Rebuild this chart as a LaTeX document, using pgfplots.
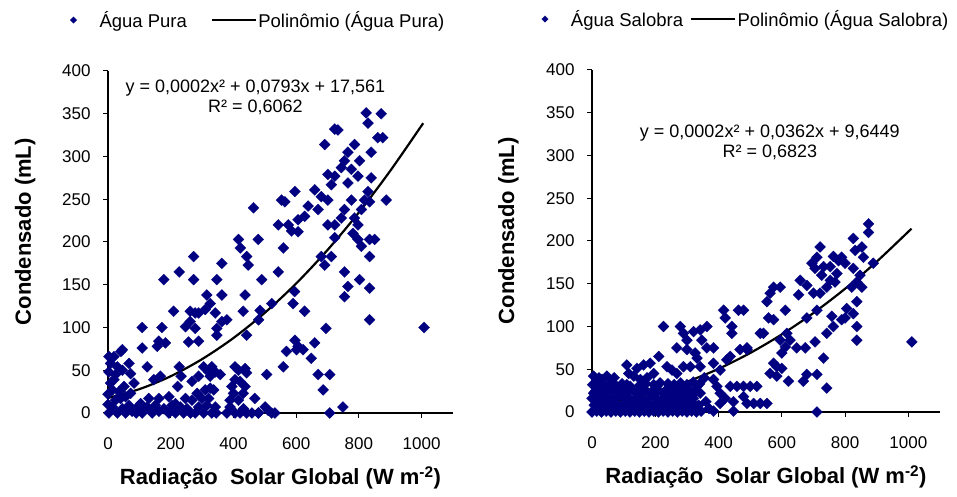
\documentclass[border=0pt]{standalone}
\usepackage{fontspec}
\setmainfont{Liberation Sans}
\usepackage{pgfplots}
\usepackage{pgfplotstable}
\pgfplotsset{compat=1.18}
\definecolor{navymark}{RGB}{0,0,128}

% Condensed water (mL) against global solar radiation (W m-2), pure water
\pgfplotstableread[row sep=\\]{
x y\\
823 351\\ 871 350\\ 829 339\\ 723 332\\ 733 331\\ 691 314\\ 786 314\\ 860 322\\ 876 322\\
765 305\\ 839 305\\ 802 295\\ 754 295\\ 744 287\\ 776 285\\ 701 279\\ 723 277\\ 797 277\\
839 275\\ 659 261\\ 680 253\\ 765 269\\ 712 267\\ 701 249\\ 596 259\\ 553 249\\ 564 247\\
464 240\\ 887 249\\ 829 259\\ 818 249\\ 834 247\\ 638 242\\ 627 230\\ 606 226\\ 670 238\\
754 238\\ 744 228\\ 776 249\\ 808 238\\ 786 228\\ 797 220\\ 543 220\\ 575 220\\ 585 213\\
606 212\\ 701 220\\ 723 220\\ 723 205\\ 712 183\\ 781 210\\ 797 203\\ 808 195\\ 834 203\\
850 203\\ 834 183\\ 416 203\\ 422 193\\ 479 203\\ 442 183\\ 447 173\\ 559 193\\ 680 183\\
691 173\\ 754 165\\ 765 148\\ 754 136\\ 802 156\\ 834 146\\ 834 109\\ 695 99\\ 1008 100\\
543 165\\ 490 156\\ 437 138\\ 363 175\\ 347 156\\ 273 183\\ 227 165\\ 178 156\\ 273 156\\
315 138\\ 326 128\\ 363 138\\ 522 128\\ 485 120\\ 480 109\\ 431 119\\ 595 142\\ 590 128\\
627 119\\ 209 119\\ 262 119\\ 278 117\\ 289 117\\ 310 121\\ 109 100\\ 172 100\\ 247 101\\
262 107\\ 278 99\\ 342 117\\ 347 99\\ 363 107\\ 379 109\\ 347 91\\ 442 91\\ 257 83\\
289 84\\ 157 78\\ 162 84\\ 183 82\\ 109 76\\ 19 66\\ 46 74\\ 41 72\\ 8 58\\ 30 54\\ 46 50\\
67 58\\ 72 46\\ 24 45\\ 8 35\\ 19 39\\ 125 54\\ 146 39\\ 167 43\\ 227 54\\ 233 43\\ 222 31\\
268 37\\ 289 43\\ 305 54\\ 321 48\\ 331 54\\ 342 48\\ 326 43\\ 358 45\\ 326 29\\ 337 27\\
321 17\\ 405 54\\ 416 50\\ 437 52\\ 442 47\\ 405 39\\ 395 31\\ 400 23\\ 389 15\\ 421 37\\
437 31\\ 431 23\\ 416 15\\ 506 45\\ 468 17\\ 559 54\\ 569 72\\ 596 85\\ 601 74\\ 606 78\\
622 74\\ 648 64\\ 659 82\\ 670 45\\ 707 45\\ 686 27\\ 749 7\\ 707 0\\ 522 0\\ 501 7\\
480 0\\ 459 0\\ 3 66\\ 3 48\\ 0 22\\ 0 10\\
3 0\\ 14 7\\ 30 0\\ 46 5\\ 56 0\\ 67 9\\ 77 2\\ 24 15\\ 40 17\\ 56 19\\ 72 23\\ 14 27\\
51 31\\ 83 35\\ 35 25\\ 90 0\\ 97 8\\
109 0\\ 125 7\\ 141 0\\ 151 9\\ 162 2\\ 178 5\\ 194 0\\ 204 9\\ 215 0\\ 231 7\\ 241 0\\
252 5\\ 104 11\\ 130 17\\ 162 17\\ 194 19\\ 215 11\\ 247 17\\ 263 0\\
278 0\\ 289 7\\ 305 0\\ 315 9\\ 331 0\\ 342 7\\ 268 15\\ 284 23\\ 299 17\\ 310 27\\ 345 0\\
379 0\\ 389 7\\ 405 0\\ 421 0\\ 432 5\\ 442 0\\ 479 0\\ 511 3\\ 532 0\\
}\purewater

% Brackish water
\pgfplotstableread[row sep=\\]{
x y\\
874 220\\ 874 210\\ 826 203\\ 853 193\\ 832 189\\ 858 181\\ 889 174\\ 721 193\\ 711 181\\
695 174\\ 705 168\\ 732 170\\ 763 182\\ 789 181\\ 800 174\\ 779 177\\ 753 170\\ 774 162\\
826 168\\ 847 160\\ 837 152\\ 853 146\\ 821 146\\ 726 160\\ 753 154\\ 742 146\\ 768 152\\
658 154\\ 679 148\\ 653 137\\ 700 139\\ 721 139\\ 837 129\\ 826 115\\ 805 121\\ 758 112\\
763 100\\ 789 108\\ 800 110\\ 837 100\\ 837 84\\ 1011 82\\ 553 129\\ 563 139\\ 574 146\\
595 146\\ 558 110\\ 574 108\\ 611 119\\ 679 110\\ 711 119\\ 742 92\\ 705 82\\ 732 63\\
711 44\\ 679 44\\ 668 36\\ 742 28\\ 616 92\\ 595 84\\ 611 76\\ 600 69\\ 626 84\\ 574 57\\
584 53\\ 600 51\\ 621 36\\ 647 75\\ 674 75\\ 563 45\\ 584 42\\ 532 92\\ 542 92\\ 490 75\\
711 0\\
416 119\\ 421 110\\ 442 100\\ 442 92\\ 463 119\\ 479 119\\ 226 100\\ 279 100\\ 289 92\\
321 94\\ 300 84\\ 342 96\\ 363 100\\ 347 84\\ 363 75\\ 384 75\\ 268 75\\ 300 73\\ 326 69\\
332 63\\ 211 65\\ 184 57\\ 163 55\\ 142 51\\ 110 55\\ 116 45\\ 132 42\\ 153 38\\ 174 40\\
195 45\\ 237 53\\ 253 49\\ 268 45\\ 289 53\\ 311 53\\ 342 53\\ 384 57\\ 405 49\\ 426 61\\
437 65\\ 468 73\\ 490 73\\ 384 38\\ 395 30\\ 405 22\\ 421 16\\ 447 12\\ 405 10\\ 384 1\\
447 1\\ 437 30\\ 458 30\\ 479 30\\ 500 30\\ 521 30\\ 490 10\\ 511 10\\ 532 10\\ 553 10\\
479 18\\
5 42\\ 11 34\\ 21 26\\ 32 38\\ 47 42\\ 58 34\\ 5 22\\ 11 14\\ 32 14\\ 42 18\\ 79 18\\
89 22\\ 68 14\\ 121 30\\ 142 22\\ 163 26\\ 184 22\\ 205 30\\ 226 22\\ 247 30\\ 268 22\\
289 30\\ 311 22\\ 332 30\\ 342 22\\
0 0\\ 15 1\\ 30 0\\ 45 1\\ 60 0\\ 75 1\\ 90 0\\ 105 1\\ 120 0\\ 135 1\\ 150 0\\ 165 1\\
180 0\\ 195 1\\ 210 0\\ 225 1\\ 240 0\\ 255 1\\ 270 0\\ 285 1\\ 300 0\\ 315 1\\ 330 0\\ 345 1\\
7 8\\ 22 9\\ 37 8\\ 52 9\\ 67 8\\ 82 9\\ 97 8\\ 112 9\\ 127 8\\ 142 9\\ 157 8\\ 172 9\\
187 8\\ 202 9\\ 217 8\\ 232 9\\ 247 8\\ 262 9\\ 277 8\\ 292 9\\ 307 8\\ 322 9\\ 337 8\\
0 16\\ 20 17\\ 60 16\\ 100 17\\ 120 15\\ 140 16\\ 160 15\\ 180 16\\ 200 17\\ 220 15\\
240 16\\ 260 15\\ 280 16\\ 300 15\\ 320 16\\ 360 12\\ 370 4\\
10 24\\ 25 25\\ 40 24\\ 55 26\\ 70 25\\ 85 24\\ 100 25\\ 115 24\\ 130 25\\ 150 24\\
170 25\\ 190 24\\ 210 25\\ 230 24\\ 250 23\\ 270 25\\ 290 24\\ 310 25\\ 330 24\\
2 32\\ 18 33\\ 38 31\\ 62 33\\ 75 31\\ 95 33\\ 110 32\\ 150 31\\ 170 33\\ 195 32\\
215 34\\ 240 33\\ 260 32\\ 280 34\\ 300 32\\ 320 35\\ 340 33\\ 355 40\\ 22 40\\ 70 40\\
}\brackishwater

% Second-order polynomial trend lines
\pgfplotstableread[row sep=\\]{
x y\\
0 17.6\\ 100 27.9\\ 200 43.0\\ 300 63.0\\ 400 87.7\\ 500 117.2\\ 600 151.5\\
700 190.7\\ 800 234.6\\ 900 283.3\\ 1005 339.0\\
}\puretrend
\pgfplotstableread[row sep=\\]{
x y\\
0 9.6\\ 100 14.9\\ 200 23.5\\ 300 35.4\\ 400 50.5\\ 500 69.0\\ 600 90.8\\
700 115.8\\ 800 144.2\\ 900 175.9\\ 1010 214.5\\
}\brackishtrend

\pgfplotsset{
  condplot/.style={
    scale only axis,
    height=342pt,
    xmin=0, xmax=1100, ymin=0, ymax=400,
    axis x line*=bottom, axis y line*=left,
    axis line style={-, line width=1.2pt},
    xtick={0,200,...,1000}, ytick={0,50,...,400},
    xticklabels={0,200,400,600,800,1000},
    tick align=outside, major tick length=5pt,
    tick style={line width=1pt, black},
    tick label style={font=\fontsize{17}{17}\selectfont},
    xticklabel style={yshift=-16pt},
    yticklabel style={xshift=-9pt},
    /pgf/number format/assume math mode=true,
    label style={font=\fontsize{22}{22}\selectfont\bfseries},
    xlabel={Radiação\ \ Solar Global (W m\textsuperscript{-2})},
    ylabel={Condensado (mL)},
    xlabel style={at={(axis description cs:0.5,-0.19)}, anchor=center},
    ylabel style={at={(axis description cs:-0.24,0.53)}, anchor=center},
    clip=false,
    legend columns=2,
    legend style={draw=none, fill=none, font=\fontsize{18.5}{18.5}\selectfont,
      anchor=west, inner sep=0pt},
  },
  dots/.style={only marks, mark=square*, mark size=3.9pt,
    mark options={rotate=45, fill=navymark, draw=navymark, line width=0.2pt},
    legend image code/.code={
      \draw[##1, mark size=2.3pt] plot coordinates {(0pt,0pt)};
      \path[draw=none, fill=none] (-3pt,0pt) -- (24pt,0pt);}},
  trend/.style={black, line width=2.2pt, smooth, no marks,
    legend image code/.code={
      \draw[black, line width=1.4pt] (0pt,0pt) -- (44pt,0pt);}},
}

\begin{document}
\begin{tikzpicture}
\path[use as bounding box] (0pt,0pt) rectangle (957pt,497pt);

\begin{axis}[condplot, at={(108pt,84pt)}, anchor=south west, width=345pt,
  legend style={at={(axis description cs:-0.11,1.149)},
    /tikz/every even column/.append style={column sep=22pt}}]
\addplot[dots] table {\purewater};
\addlegendentry{Água Pura}
\addplot[trend] table {\puretrend};
\addlegendentry{Polinômio (Água Pura)}
\node[font=\fontsize{18}{20}\selectfont, align=center] at (axis cs:470,369)
  {y = 0,0002x² + 0,0793x + 17,561\\R² = 0,6062};
\end{axis}

\begin{axis}[condplot, at={(592pt,85pt)}, anchor=south west, width=348pt,
  legend style={at={(axis description cs:-0.145,1.149)},
    /tikz/every even column/.append style={column sep=5pt}}]
\addplot[dots] table {\brackishwater};
\addlegendentry{Água Salobra}
\addplot[trend] table {\brackishtrend};
\addlegendentry{Polinômio (Água Salobra)}
\node[font=\fontsize{18}{20}\selectfont, align=center] at (axis cs:562,315)
  {y = 0,0002x² + 0,0362x + 9,6449\\R² = 0,6823};
\end{axis}
\end{tikzpicture}
\end{document}
